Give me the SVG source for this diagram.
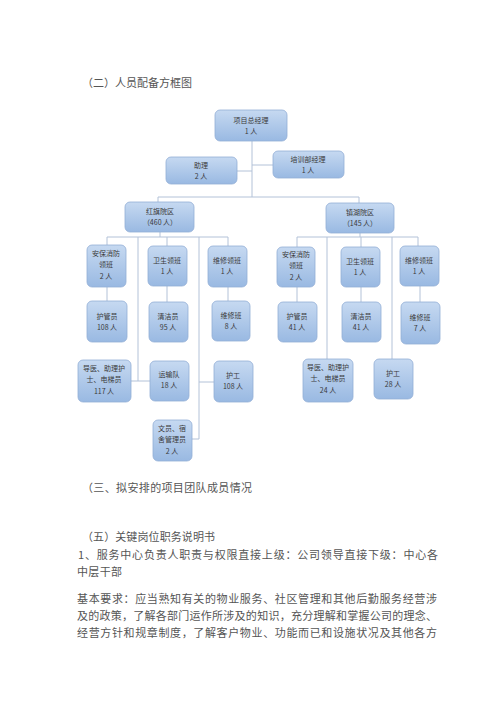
<svg xmlns="http://www.w3.org/2000/svg" width="500" height="707" viewBox="0 0 500 707">
<defs>
<linearGradient id="g" x1="0" y1="0" x2="0" y2="1">
<stop offset="0" stop-color="#c6d9f1"/>
<stop offset="1" stop-color="#99b9e2"/>
</linearGradient>
<style>
.b{fill:url(#g);stroke:#93afd6;stroke-width:0.8}
.t{font-family:"Noto Sans CJK SC",sans-serif;font-size:7px;fill:#3a3a3a;text-anchor:middle}
.p{font-family:"Noto Sans CJK SC",sans-serif;font-size:11px;fill:#555}
.c{stroke:#b3c2d8;stroke-width:1;fill:none}
</style>
</defs>
<rect width="500" height="707" fill="#fff"/>
<text class="p" x="82" y="87" textLength="110">（二）人员配备方框图</text>

<g id="connectors">
<path class="c" d="M252 141V197M237 171H252M252 165H273M158 197H359M158 197V202M359 197V203"/>
<path class="c" d="M160 232V237M107 237H228M107 237V245M167 237V246M228 237V246M138 237V381M131 381H150M199 237V439M199 382H214M192 439H199"/>
<path class="c" d="M107 287V301M167 286V302M228 287V301"/>
<path class="c" d="M360 233V237M297 237H418M297 237V247M361 237V247M418 237V246M327 237V359M392 237V359"/>
<path class="c" d="M297 287V302M361 287V302M420 286V302"/>
</g>

<g id="n-gm"><rect class="b" x="215" y="110" width="72" height="31" rx="5"/><text class="t" x="251" y="123">项目总经理</text><text class="t" x="251" y="134">1 人</text></g>
<g id="n-assist"><rect class="b" x="166" y="157" width="71" height="27" rx="5"/><text class="t" x="201" y="168">助理</text><text class="t" x="201" y="179">2 人</text></g>
<g id="n-train"><rect class="b" x="273" y="151" width="71" height="27" rx="5"/><text class="t" x="308" y="162">培训部经理</text><text class="t" x="308" y="173">1 人</text></g>

<g id="n-hq"><rect class="b" x="125" y="202" width="69" height="30" rx="5"/><text class="t" x="160" y="214">红旗院区</text><text class="t" x="160" y="225">（460 人）</text></g>
<g id="n-zh"><rect class="b" x="326" y="203" width="68" height="30" rx="5"/><text class="t" x="360" y="215">镇湖院区</text><text class="t" x="360" y="226">（145 人）</text></g>

<g id="n-l-sec"><rect class="b" x="87" y="245" width="39" height="42" rx="5"/><text class="t" x="106" y="256">安保消防</text><text class="t" x="106" y="267">领班</text><text class="t" x="106" y="279">2 人</text></g>
<g id="n-l-hyg"><rect class="b" x="148" y="246" width="39" height="40" rx="5"/><text class="t" x="167" y="263">卫生领班</text><text class="t" x="167" y="274">1 人</text></g>
<g id="n-l-rep"><rect class="b" x="208" y="246" width="39" height="41" rx="5"/><text class="t" x="227" y="263">维修领班</text><text class="t" x="227" y="274">1 人</text></g>
<g id="n-l-guard"><rect class="b" x="87" y="301" width="40" height="41" rx="5"/><text class="t" x="107" y="319">护管员</text><text class="t" x="107" y="330">108 人</text></g>
<g id="n-l-clean"><rect class="b" x="149" y="302" width="39" height="40" rx="5"/><text class="t" x="168" y="319">清洁员</text><text class="t" x="168" y="330">95 人</text></g>
<g id="n-l-fix"><rect class="b" x="212" y="301" width="38" height="40" rx="5"/><text class="t" x="231" y="318">维修班</text><text class="t" x="231" y="329">8 人</text></g>
<g id="n-l-guide"><rect class="b" x="78" y="360" width="53" height="42" rx="5"/><text class="t" x="104" y="371">导医、助理护</text><text class="t" x="104" y="382">士、电梯员</text><text class="t" x="104" y="394">117 人</text></g>
<g id="n-l-trans"><rect class="b" x="150" y="361" width="39" height="40" rx="5"/><text class="t" x="169" y="377">运输队</text><text class="t" x="169" y="388">18 人</text></g>
<g id="n-l-care"><rect class="b" x="214" y="361" width="39" height="41" rx="5"/><text class="t" x="233" y="378">护工</text><text class="t" x="233" y="389">108 人</text></g>
<g id="n-l-clerk"><rect class="b" x="153" y="420" width="39" height="41" rx="5"/><text class="t" x="172" y="431">文员、宿</text><text class="t" x="172" y="442">舍管理员</text><text class="t" x="172" y="454">2 人</text></g>

<g id="n-r-sec"><rect class="b" x="277" y="247" width="38" height="40" rx="5"/><text class="t" x="296" y="257">安保消防</text><text class="t" x="296" y="268">领班</text><text class="t" x="296" y="280">2 人</text></g>
<g id="n-r-hyg"><rect class="b" x="341" y="247" width="39" height="40" rx="5"/><text class="t" x="360" y="264">卫生领班</text><text class="t" x="360" y="275">1 人</text></g>
<g id="n-r-rep"><rect class="b" x="400" y="246" width="39" height="40" rx="5"/><text class="t" x="419" y="263">维修领班</text><text class="t" x="419" y="274">1 人</text></g>
<g id="n-r-guard"><rect class="b" x="278" y="302" width="39" height="40" rx="5"/><text class="t" x="297" y="319">护管员</text><text class="t" x="297" y="330">41 人</text></g>
<g id="n-r-clean"><rect class="b" x="342" y="302" width="39" height="40" rx="5"/><text class="t" x="361" y="319">清洁员</text><text class="t" x="361" y="330">41 人</text></g>
<g id="n-r-fix"><rect class="b" x="401" y="302" width="39" height="42" rx="5"/><text class="t" x="420" y="320">维修班</text><text class="t" x="420" y="331">7 人</text></g>
<g id="n-r-guide"><rect class="b" x="303" y="359" width="50" height="43" rx="5"/><text class="t" x="328" y="370">导医、助理护</text><text class="t" x="328" y="381">士、电梯员</text><text class="t" x="328" y="393">24 人</text></g>
<g id="n-r-care"><rect class="b" x="374" y="359" width="39" height="40" rx="5"/><text class="t" x="393" y="376">护工</text><text class="t" x="393" y="387">28 人</text></g>

<text class="p" x="82" y="492" textLength="170">（三、拟安排的项目团队成员情况</text>
<text class="p" x="82" y="541" textLength="133">（五）关键岗位职务说明书</text>
<text class="p" x="78" y="559" textLength="360">1、服务中心负责人职责与权限直接上级：公司领导直接下级：中心各</text>
<text class="p" x="77" y="576" textLength="45">中层干部</text>
<text class="p" x="77" y="603" textLength="360">基本要求：应当熟知有关的物业服务、社区管理和其他后勤服务经营涉</text>
<text class="p" x="77" y="620" textLength="360">及的政策，了解各部门运作所涉及的知识，充分理解和掌握公司的理念、</text>
<text class="p" x="77" y="637" textLength="360">经营方针和规章制度，了解客户物业、功能而已和设施状况及其他各方</text>
</svg>
